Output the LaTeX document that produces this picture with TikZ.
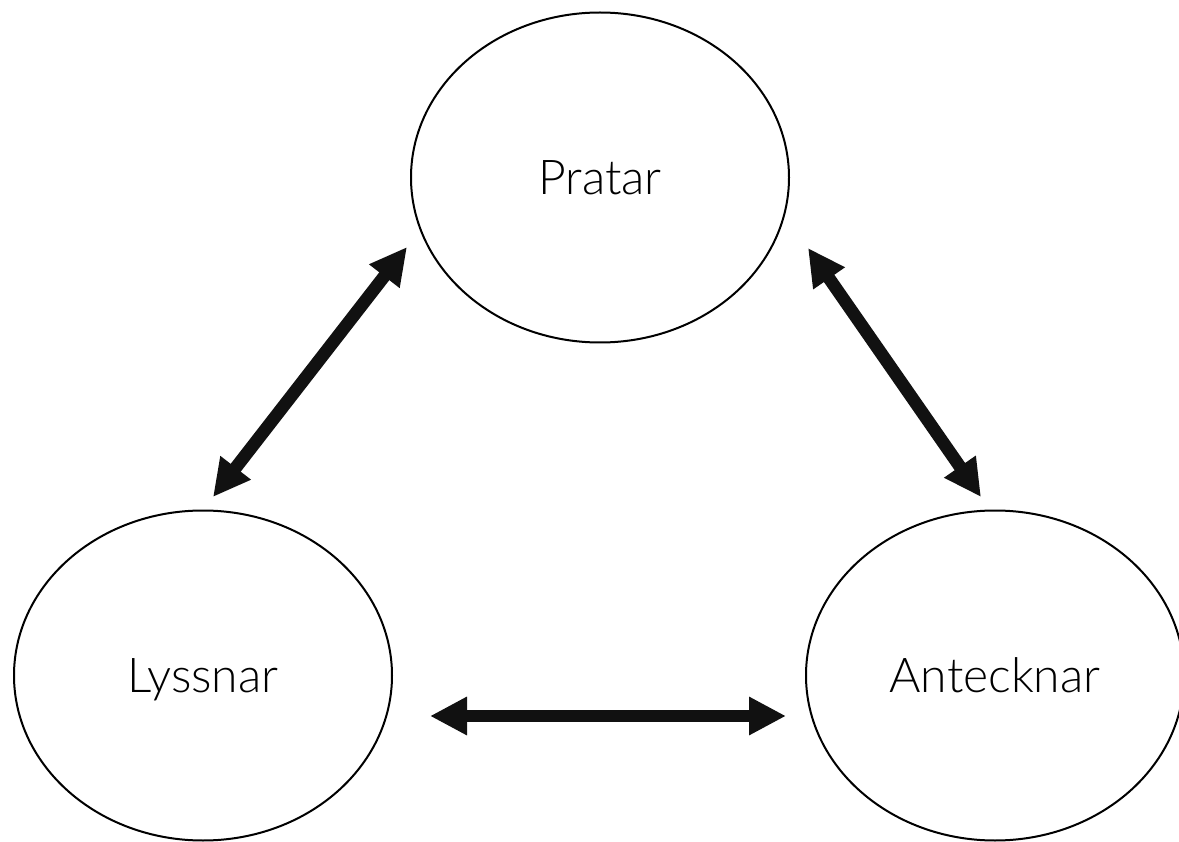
\documentclass[tikz,border=0pt]{standalone}
\usepackage{fontspec}
\setmainfont{Lato}[UprightFont={* Light}]
\usetikzlibrary{shapes.geometric,arrows.meta}
\tikzset{
  bubble/.style={ellipse,draw=black,line width=2pt,minimum width=378pt,minimum height=330pt,inner sep=0pt,
    font=\fontsize{48}{48}\selectfont,text height=34pt,text depth=0pt},
  link/.style={line width=12.7pt,draw={rgb,255:red,17;green,17;blue,17},
    {Triangle[length=37pt,width=36pt]}-{Triangle[length=37pt,width=36pt]}}
}
\begin{document}
\begin{tikzpicture}[x=1pt,y=-1pt]
\useasboundingbox (0,0) rectangle (1179,842);
\begin{scope}
\clip (0,0) rectangle (1179,842);
\node[bubble] (pratar) at (600,177.5) {Pratar};
\node[bubble] (lyssnar) at (203,675.5) {Lyssnar};
\node[bubble] (antecknar) at (995,675.5) {Antecknar};
\end{scope}
\coordinate (lp1) at (213,497);
\coordinate (lp2) at (407,247);
\coordinate (pa1) at (808,248);
\coordinate (pa2) at (981,497);
\coordinate (la1) at (430,716);
\coordinate (la2) at (786,716);
\draw[link] (lp1) -- (lp2);
\draw[link] (pa1) -- (pa2);
\draw[link] (la1) -- (la2);
\end{tikzpicture}
\end{document}
